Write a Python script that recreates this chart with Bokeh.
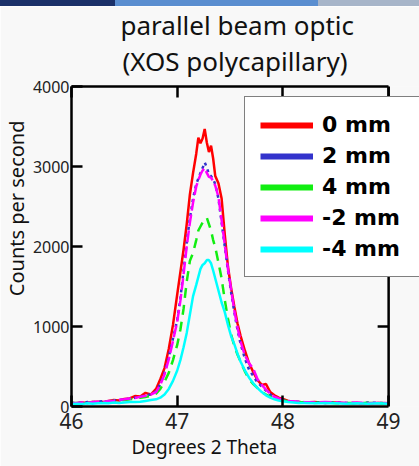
import math
from bokeh.plotting import figure
from bokeh.models import (Range1d, FixedTicker, LinearAxis, Legend, LegendItem,
                          ColumnDataSource, Div, Title, Span)
from bokeh.layouts import column
from bokeh.embed import file_html
from bokeh.resources import INLINE

title_lines = ["parallel beam optic", "(XOS polycapillary)"]
x_label = "Degrees 2 Theta"
y_label = "Counts per second"
x_ticks = [46, 47, 48, 49]
y_ticks = [0, 1000, 2000, 3000, 4000]

two_theta = [46.00, 46.05, 46.10, 46.15, 46.20, 46.25, 46.30, 46.35, 46.40, 46.45,
             46.50, 46.55, 46.60, 46.65, 46.70, 46.75, 46.80, 46.84, 46.88, 46.92,
             46.96, 47.00, 47.03, 47.06, 47.09, 47.12, 47.15, 47.18, 47.20, 47.22,
             47.24, 47.26, 47.28, 47.30, 47.32, 47.34, 47.36, 47.39, 47.42, 47.45,
             47.48, 47.51, 47.54, 47.57, 47.60, 47.64, 47.68, 47.72, 47.76, 47.80,
             47.84, 47.88, 47.92, 47.96, 48.00, 48.05, 48.10, 48.15, 48.20, 48.30,
             48.40, 48.50, 48.60, 48.70, 48.80, 48.90, 49.00]

cps_0mm = [45, 40, 50, 45, 55, 60, 55, 70, 80, 75,
           95, 100, 130, 125, 170, 150, 220, 340, 480, 720,
           1020, 1400, 1680, 1960, 2280, 2650, 2920, 3160, 3360, 3290,
           3350, 3470, 3300, 3180, 3260, 3100, 2880, 2790, 2600, 2150,
           1750, 1480, 1250, 1040, 880, 700, 540, 430, 330, 270,
           280, 180, 140, 110, 95, 70, 60, 55, 50, 55,
           45, 50, 40, 45, 35, 45, 40]

cps_2mm = [40, 50, 45, 55, 50, 60, 65, 60, 75, 80,
           90, 95, 110, 120, 140, 150, 190, 280, 420, 620,
           850, 1080, 1350, 1700, 2050, 2350, 2600, 2780, 2850, 2920,
           2980, 3050, 2990, 2900, 2880, 2840, 2780, 2600, 2300, 2000,
           1700, 1430, 1180, 960, 780, 600, 460, 380, 300, 250,
           200, 150, 120, 95, 80, 70, 60, 55, 50, 55,
           45, 50, 45, 40, 50, 45, 40]

cps_4mm = [40, 45, 40, 50, 55, 50, 60, 65, 70, 75,
           80, 90, 100, 110, 120, 130, 160, 220, 310, 420,
           580, 770, 960, 1220, 1560, 1820, 1920, 2080, 2200, 2250,
           2300, 2340, 2360, 2280, 2200, 2080, 1990, 1800, 1600, 1330,
           1100, 900, 760, 650, 560, 440, 340, 280, 230, 180,
           150, 120, 100, 85, 75, 65, 60, 55, 50, 45,
           50, 40, 45, 40, 45, 40, 35]

cps_m2mm = [35, 45, 50, 45, 55, 60, 55, 70, 70, 85,
            90, 100, 105, 120, 135, 150, 180, 270, 400, 590,
            820, 1060, 1320, 1650, 2000, 2300, 2550, 2750, 2830, 2900,
            2950, 2980, 2920, 2870, 2860, 2820, 2760, 2620, 2330, 2020,
            1720, 1460, 1200, 990, 810, 640, 540, 470, 340, 270,
            210, 160, 120, 100, 85, 70, 65, 60, 55, 50,
            55, 50, 45, 50, 40, 45, 40]

cps_m4mm = [30, 35, 30, 40, 35, 40, 45, 40, 50, 45,
            50, 55, 55, 60, 70, 80, 90, 110, 150, 220,
            320, 450, 580, 740, 920, 1150, 1380, 1520, 1620, 1720,
            1770, 1790, 1830, 1830, 1790, 1700, 1600, 1450, 1300, 1180,
            1020, 880, 780, 660, 560, 450, 360, 290, 230, 180,
            140, 110, 90, 75, 65, 55, 50, 45, 45, 40,
            45, 40, 35, 40, 35, 40, 35]

series_names = ["0 mm", "2 mm", "4 mm", "-2 mm", "-4 mm"]
series_values = [cps_0mm, cps_2mm, cps_4mm, cps_m2mm, cps_m4mm]
series_colors = ["#ff0000", "#3333cc", "#11ee11", "#ff00ff", "#00ffff"]
series_dash = ["solid", "3 4", "10 7", "12 4", "solid"]

FONT = "Noto Sans"
BG = "#f8f8f8"

# The frame reaches the right edge of the page so that the legend can run off it,
# as in the reference; the visible plot box still ends at 2-theta = 49.
p = figure(width=419, height=460, output_backend="svg", toolbar_location=None,
           x_range=Range1d(x_ticks[0], 49.292), y_range=Range1d(y_ticks[0], y_ticks[-1]),
           min_border_left=70, min_border_right=0, min_border_top=80, min_border_bottom=60,
           background_fill_color=BG, border_fill_color=BG)
p.grid.visible = False
p.outline_line_color = None

xb = (x_ticks[0], x_ticks[-1])

for ax in (p.xaxis[0], p.yaxis[0]):
    ax.axis_line_width = 2.5
    ax.major_tick_line_width = 2.5
    ax.major_tick_in = 11
    ax.major_tick_out = 0
    ax.minor_tick_line_color = None
    ax.major_label_text_font = FONT
    ax.major_label_text_color = "#222222"
    ax.axis_label_standoff = 0

p.xaxis[0].ticker = FixedTicker(ticks=x_ticks)
p.xaxis[0].bounds = xb
p.yaxis[0].ticker = FixedTicker(ticks=y_ticks)
p.xaxis[0].major_label_text_font_size = "21px"
p.xaxis[0].major_label_standoff = 6
p.yaxis[0].major_label_text_font_size = "16px"
p.yaxis[0].major_label_standoff = 2

# top side of the box: ticks only
top_ax = LinearAxis(ticker=FixedTicker(ticks=x_ticks), bounds=xb,
                    major_label_text_font_size="1px", axis_label_standoff=0,
                    major_label_text_color=None, major_label_standoff=0,
                    major_tick_in=11, major_tick_out=0, major_tick_line_width=2.5,
                    minor_tick_line_color=None, axis_line_width=2.5)
p.add_layout(top_ax, "above")

# titles: inner line first, then the outer line (plot title)
p.add_layout(Title(text=title_lines[1], align="left", offset=51, text_font=FONT,
                   text_font_size="26px", text_font_style="normal",
                   text_color="#111111", standoff=16), "above")
p.title.text = title_lines[0]
p.title.align = "left"
p.title.offset = 49
p.title.text_font = FONT
p.title.text_font_size = "26px"
p.title.text_font_style = "normal"
p.title.text_color = "#111111"
p.title.standoff = -20

# axis titles
p.add_layout(Title(text=y_label, align="right", offset=34, text_font=FONT,
                   text_font_size="20px", text_font_style="normal",
                   text_color="#111111", standoff=0), "left")
p.add_layout(Title(text=x_label, align="left", offset=60, text_font=FONT,
                   text_font_size="19px", text_font_style="normal",
                   text_color="#111111", standoff=0), "below")

# right side of the plot box and its inward ticks
p.add_layout(Span(location=x_ticks[-1], dimension="height", line_color="black",
                  line_width=2.5))
p.ray(x=[x_ticks[-1]] * (len(y_ticks) - 2), y=y_ticks[1:-1], length=11,
      length_units="screen", angle=math.pi, line_color="black", line_width=2.5)

for name, vals, col, dash in zip(series_names, series_values, series_colors, series_dash):
    src = ColumnDataSource(dict(x=two_theta, y=vals))
    p.line("x", "y", source=src, line_color=col, line_width=2.5, line_dash=dash)

items = []
for name, col in zip(series_names, series_colors):
    r = p.line([float("nan")], [float("nan")], line_color=col, line_width=6)
    items.append(LegendItem(label=name, renderers=[r]))

legend = Legend(items=items, location=(173, 129),
                label_text_font="DejaVu Sans", label_text_font_style="bold",
                label_text_font_size="22px", label_text_color="black",
                glyph_width=53, glyph_height=22, label_height=22, label_width=110,
                spacing=6, padding=15, label_standoff=9, margin=0,
                border_line_color="black", border_line_width=1.5,
                background_fill_color="white", background_fill_alpha=1.0)
p.add_layout(legend, "center")

banner = Div(text="", width=419, height=6, margin=0,
             styles={"background": "linear-gradient(to right, #1b3169 0px, #1b3169 115px, "
                                   "#5a8ed0 115px, #5a8ed0 318px, #a7b5c9 318px)"})
layout = column(banner, p, spacing=0)

open("out.html", "w").write(file_html(layout, INLINE))
